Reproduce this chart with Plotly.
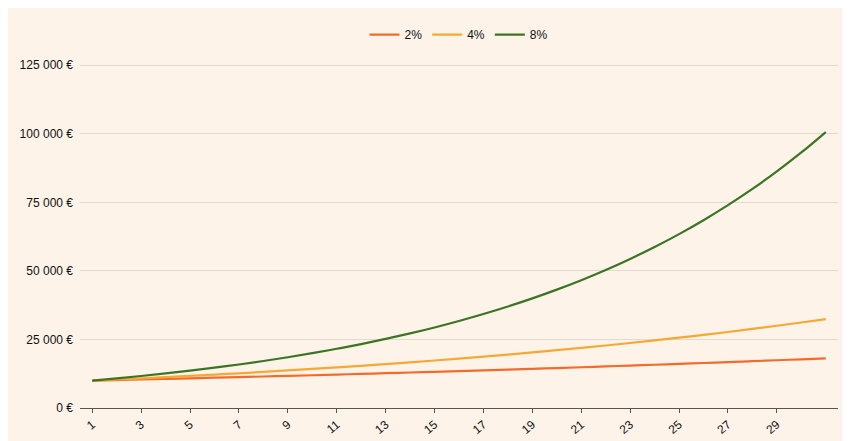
import plotly.graph_objects as go

years = list(range(1, 32))
s2 = [10000,10200,10404,10612,10824,11041,11262,11487,11717,11951,12190,12434,12682,12936,13195,13459,13728,14002,14282,14568,14859,15157,15460,15769,16084,16406,16734,17069,17410,17758,18114]
s4 = [10000,10400,10816,11249,11699,12167,12653,13159,13686,14233,14802,15395,16010,16651,17317,18009,18730,19479,20258,21068,21911,22788,23699,24647,25633,26658,27725,28834,29987,31187,32434]
s8 = [10000,10800,11664,12597,13605,14693,15869,17138,18509,19990,21589,23316,25182,27196,29372,31722,34259,37000,39960,43157,46610,50338,54365,58715,63412,68485,73964,79881,86271,93173,100627]
names = ["2%", "4%", "8%"]
colors = ["#f26b2c", "#f5a833", "#3b7524"]
yticks = [0, 25000, 50000, 75000, 100000, 125000]
ylabels = ["0 €", "25 000 €", "50 000 €", "75 000 €", "100 000 €", "125 000 €"]
xticks = list(range(1, 30, 2))

fig = go.Figure()
for n, s, c in zip(names, [s2, s4, s8], colors):
    fig.add_trace(go.Scatter(x=years, y=s, name=n, mode="lines", line=dict(color=c, width=2.2, shape="spline")))

bg = "#fdf3e8"
fig.update_layout(
    width=850, height=441, paper_bgcolor=bg, plot_bgcolor=bg,
    margin=dict(l=72, r=20, t=44, b=37),
    font=dict(family="Liberation Sans, Arial", size=12, color="#111"),
    legend=dict(orientation="h", x=0.5, xanchor="center", y=1.04, yanchor="bottom",
                font=dict(size=12), bgcolor="rgba(0,0,0,0)", itemwidth=30),
    showlegend=True,
)
fig.update_yaxes(range=[0, 125800], tickvals=yticks, ticktext=ylabels,
                 gridcolor="#e3d9cc", zeroline=False, showline=False, ticks="", ticklabelstandoff=6)
fig.update_xaxes(range=[0.5, 31.5], tickvals=xticks, tickangle=-40, showgrid=False,
                 showline=True, linecolor="#555", ticks="outside", ticklen=4, tickcolor="#555")
fig.write_html("out.html")
